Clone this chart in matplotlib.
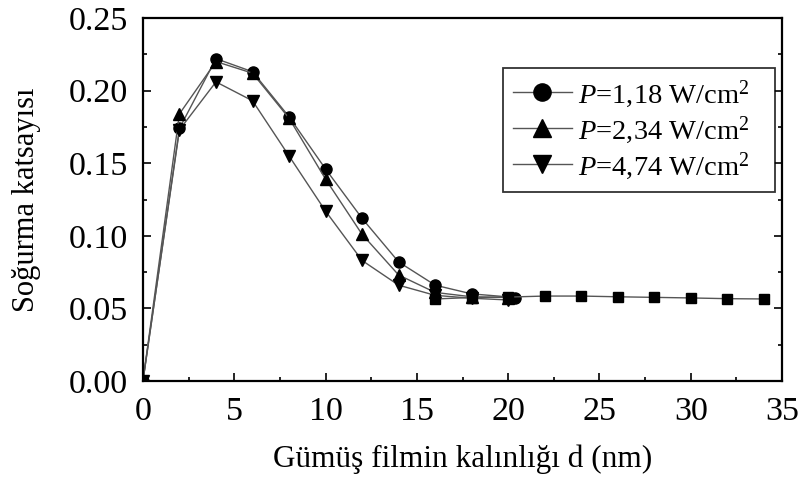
import matplotlib
matplotlib.use("Agg")
import matplotlib.pyplot as plt
from matplotlib.ticker import MultipleLocator

plt.rcParams['font.family'] = ['Liberation Serif', 'DejaVu Serif']
plt.rcParams['mathtext.fontset'] = 'custom'
plt.rcParams['mathtext.rm'] = 'Liberation Serif'
plt.rcParams['mathtext.it'] = 'Liberation Serif:italic'

# Absorption coefficient vs. silver film thickness for three laser powers
d_p1 = [0, 2, 4, 6, 8, 10, 12, 14, 16, 18, 20.4]
a_p1 = [0.0, 0.174, 0.222, 0.213, 0.182, 0.146, 0.112, 0.082, 0.066, 0.060, 0.0575]

d_p2 = [0, 2, 4, 6, 8, 10, 12, 14, 16, 18, 20]
a_p2 = [0.0, 0.184, 0.220, 0.212, 0.181, 0.139, 0.101, 0.073, 0.061, 0.058, 0.0575]

d_p3 = [0, 2, 4, 6, 8, 10, 12, 14, 16, 18, 20]
a_p3 = [0.0, 0.173, 0.206, 0.193, 0.155, 0.117, 0.083, 0.066, 0.059, 0.057, 0.0558]

# Common thick-film tail
d_tail = [16, 18, 20, 22, 24, 26, 28, 30, 32, 34]
a_tail = [0.0565, 0.0575, 0.0578, 0.0585, 0.0585, 0.058, 0.0576, 0.0572, 0.0567, 0.0565]

labels = [r'$P$=1,18 W/cm$^2$   ', r'$P$=2,34 W/cm$^2$   ', r'$P$=4,74 W/cm$^2$   ']

fig = plt.figure(figsize=(8.03, 4.79), dpi=100)
ax = fig.add_axes([0.178, 0.2046, 0.796, 0.7578])

line_kw = dict(color='#555555', lw=1.0, mfc='black', mec='black')
ax.plot(d_p1, a_p1, marker='o', ms=8, label=labels[0], **line_kw)
ax.plot(d_p2, a_p2, marker='^', ms=8, label=labels[1], **line_kw)
ax.plot(d_p3, a_p3, marker='v', ms=8, label=labels[2], **line_kw)
ax.plot(d_tail, a_tail, marker='s', ms=6.5, **line_kw)

ax.set_xlim(0, 35)
ax.set_ylim(0, 0.25)
ax.xaxis.set_major_locator(MultipleLocator(5))
ax.xaxis.set_minor_locator(MultipleLocator(2.5))
ax.yaxis.set_major_locator(MultipleLocator(0.05))
ax.yaxis.set_minor_locator(MultipleLocator(0.025))
ax.yaxis.set_major_formatter(plt.FuncFormatter(lambda v, p: f'{v:.2f}'))

for s in ax.spines.values():
    s.set_linewidth(1.6)
ax.tick_params(which='both', direction='in', top=False, right=True,
               labelsize=24.5, width=1.2)
ax.tick_params(which='major', length=6)
ax.tick_params(which='minor', length=3)
ax.tick_params(axis='x', which='both', pad=11)
ax.tick_params(axis='y', which='both', pad=10.5)

ax.set_xlabel('Gümüş filmin kalınlığı d (nm)', fontsize=22.5, labelpad=13)
ax.set_ylabel('Soğurma katsayısı', fontsize=22, labelpad=20)

leg = ax.legend(loc='upper left', bbox_to_anchor=(0.5634, 0.862),
                borderaxespad=0, fontsize=20.5,
                frameon=True, fancybox=False, edgecolor='black', markerscale=1.55,
                handlelength=2.07, borderpad=0.35, labelspacing=0.15,
                handletextpad=0.2)
leg.get_frame().set_linewidth(1.3)

fig.savefig('out.png', dpi=100)
